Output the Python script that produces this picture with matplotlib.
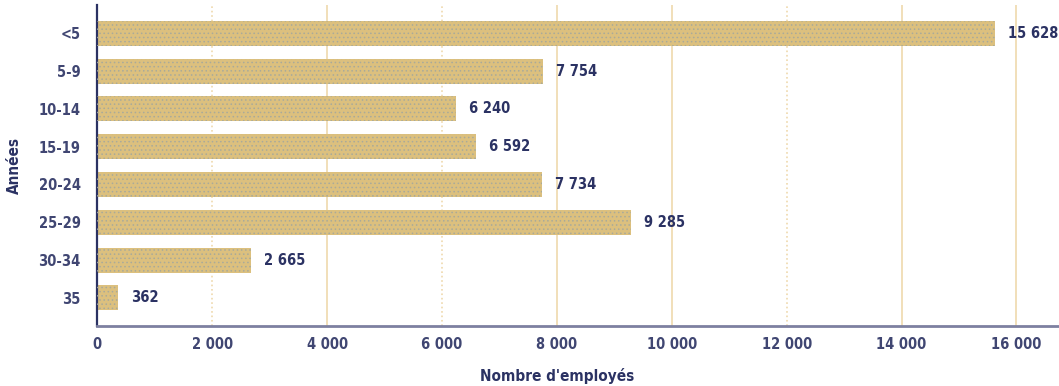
import matplotlib as mpl
import matplotlib.pyplot as plt
import numpy as np

mpl.use("Agg")

# Ancienneté (années) et nombre d'employés
tranches = ["<5", "5-9", "10-14", "15-19", "20-24", "25-29", "30-34", "35"]
employes = [15628, 7754, 6240, 6592, 7734, 9285, 2665, 362]
graduations = [0, 2000, 4000, 6000, 8000, 10000, 12000, 14000, 16000]
pointilles = [2000, 6000, 12000]

navy = "#2b3263"
tan = "#dcc07e"
grid_tan = "#efd9ad"

plt.rcParams["font.family"] = ["Liberation Sans Narrow", "DejaVu Sans"]
plt.rcParams["font.stretch"] = "condensed"
plt.rcParams["hatch.color"] = "#b8b49a"
plt.rcParams["hatch.linewidth"] = 0.6


def fmt(v):
    return f"{v:,}".replace(",", " ")


fig = plt.figure(figsize=(10.59, 3.86), dpi=100)
ax = fig.add_axes([0.092, 0.155, 0.908, 0.832])

y = np.arange(len(tranches))
ax.barh(y, employes, height=0.66, color=tan, edgecolor=tan,
        linewidth=0, zorder=2)
ax.barh(y, employes, height=0.66, fill=False, hatch="....",
        edgecolor="#a9aa9a", linewidth=0, zorder=3)

for g in graduations[1:]:
    ls = ":" if g in pointilles else "-"
    ax.axvline(g, color=grid_tan, lw=1.2, ls=ls, zorder=1)

for yi, v in zip(y, employes):
    ax.text(v + 230, yi, fmt(v), va="center", ha="left", fontsize=10.5,
            fontweight="bold", color=navy)

ax.set_xlim(0, 16740)
ax.set_ylim(len(tranches) - 0.25, -0.75)
ax.set_yticks(y)
ax.set_yticklabels(tranches)
ax.set_xticks(graduations)
ax.set_xticklabels([fmt(g) for g in graduations])
ax.tick_params(length=0, labelsize=10.5, colors=navy, pad=8)
ax.tick_params(axis="y", pad=12)
for lab in ax.get_xticklabels() + ax.get_yticklabels():
    lab.set_fontweight("bold")
    lab.set_alpha(0.9)

ax.set_xlabel("Nombre d'employés", fontsize=11, fontweight="bold",
              color=navy)
ax.set_ylabel("Années", fontsize=11, fontweight="bold", color=navy)
ax.xaxis.set_label_coords(0.478, -0.13)
ax.yaxis.set_label_coords(-0.078, 0.5)

for s in ["top", "right"]:
    ax.spines[s].set_visible(False)
ax.spines["left"].set_color(navy)
ax.spines["left"].set_linewidth(1.6)
ax.spines["bottom"].set_color("#7d80a0")
ax.spines["bottom"].set_linewidth(2)
ax.spines["bottom"].set_linestyle((0, (3, 1)))

fig.savefig("out.png", dpi=100)
